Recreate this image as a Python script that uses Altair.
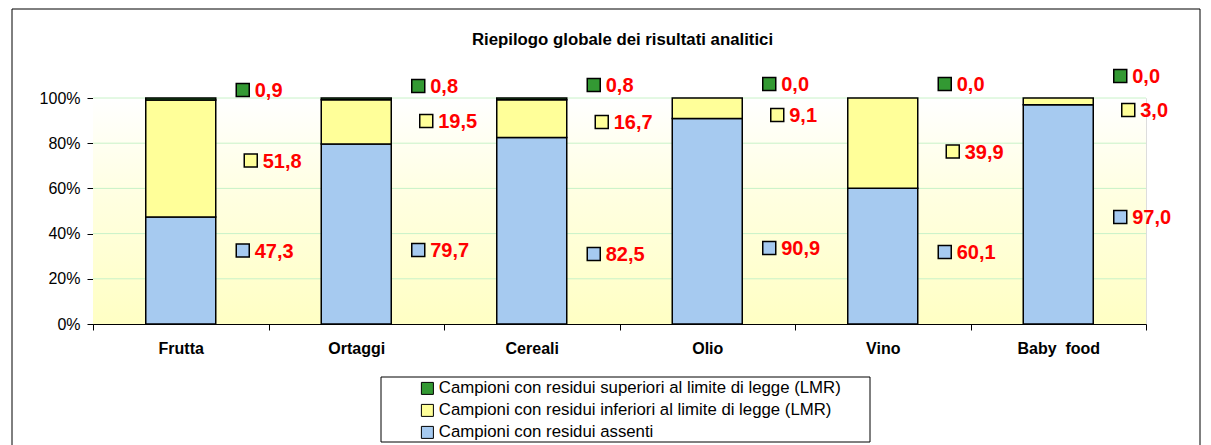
import altair as alt
import pandas as pd

# ---------------- data ----------------
categories = ["Frutta", "Ortaggi", "Cereali", "Olio", "Vino", "Baby\u00a0 food"]
series_names = [
    "Campioni con residui superiori al limite di legge (LMR)",
    "Campioni con residui inferiori al limite di legge (LMR)",
    "Campioni con residui assenti",
]
superiori = [0.9, 0.8, 0.8, 0.0, 0.0, 0.0]
inferiori = [51.8, 19.5, 16.7, 9.1, 39.9, 3.0]
assenti = [47.3, 79.7, 82.5, 90.9, 60.1, 97.0]

# where each data label sits (in % units of the y axis)
label_y_superiori = [103.5, 105.3, 105.8, 106.2, 106.2, 109.7]
label_y_inferiori = [72.3, 89.8, 89.4, 92.5, 76.3, 94.7]
label_y_assenti = [32.5, 32.7, 31.0, 33.6, 31.9, 47.3]

y_ticks = [0, 20, 40, 60, 80, 100]
grid_ticks = [20, 40, 60, 80, 100]
title_text = "Riepilogo globale dei risultati analitici"

# ---------------- table ----------------
rows = []
for rank, (name, vals, ly) in enumerate(
    [
        (series_names[2], assenti, label_y_assenti),
        (series_names[1], inferiori, label_y_inferiori),
        (series_names[0], superiori, label_y_superiori),
    ]
):
    for c, v, y in zip(categories, vals, ly):
        rows.append({"cat": c, "series": name, "value": v, "rank": rank, "label_y": y,
                     "label": f"{v:.1f}".replace(".", ",")})
df = pd.DataFrame(rows)

# ---------------- style ----------------
W, H = 1053, 226
FONT = "Liberation Sans"
colors = ["#339933", "#FFFF99", "#A6CAF0"]
sq_offset = {series_names[0]: 62, series_names[1]: 70, series_names[2]: 62}

color_scale = alt.Scale(domain=series_names, range=colors)
x_axis = alt.Axis(title=None, tickBand="extent", tickSize=6, tickColor="#000",
                  domainColor="#000", labelFontSize=16, labelFontWeight="bold",
                  labelFont=FONT, labelColor="#000", labelPadding=10,
                  labelAngle=0, grid=False)
y_axis = alt.Axis(title=None, values=y_ticks, labelExpr="datum.value + '%'",
                  grid=False, tickSize=6, tickColor="#000", domainColor="#000",
                  labelFontSize=16, labelFont=FONT, labelColor="#000",
                  labelPadding=7)
x_enc = alt.X("cat:N", sort=categories,
              scale=alt.Scale(paddingInner=0, paddingOuter=0), axis=x_axis)
y_scale = alt.Scale(domain=[0, 100], nice=False)

bg = alt.Chart(alt.Data(values=[{}])).mark_rect(
    color=alt.LinearGradient(
        gradient="linear", x1=0, x2=0, y1=0, y2=1,
        stops=[alt.GradientStop(color="#FFFFFF", offset=0),
               alt.GradientStop(color="#FFFFE0", offset=0.45),
               alt.GradientStop(color="#FFFFC4", offset=1)]),
).encode(x=alt.value(0), x2=alt.value(W), y=alt.value(0), y2=alt.value(H))

grid = alt.Chart(pd.DataFrame({"t": grid_ticks})).mark_rule(
    color="#C8F2C8", strokeWidth=1
).encode(y=alt.Y("t:Q", scale=y_scale, axis=y_axis), x=alt.value(0), x2=alt.value(W))

bars = alt.Chart(df).transform_filter("datum.value > 0").mark_bar(
    width=70, stroke="#000", strokeWidth=1.5
).encode(
    x=x_enc,
    y=alt.Y("value:Q", stack="zero", scale=y_scale, axis=y_axis),
    color=alt.Color("series:N", scale=color_scale,
                    legend=alt.Legend(title=None, orient="none", legendX=326, legendY=282,
                                      direction="vertical", symbolType="square",
                                      symbolSize=144, symbolStrokeColor="#000",
                                      symbolStrokeWidth=1, symbolOpacity=1,
                                      labelFontSize=16.8, labelFont=FONT, labelColor="#000",
                                      labelLimit=0, labelOffset=3, padding=0,
                                      rowPadding=4)),
    order=alt.Order("rank:Q"),
)

label_layers = []
for name in series_names:
    base = alt.Chart(df).transform_filter(alt.datum.series == name)
    sq = base.mark_square(size=169, filled=True, stroke="#000", strokeWidth=1.5,
                          opacity=1, xOffset=sq_offset[name]).encode(
        x=alt.X("cat:N", sort=categories, axis=x_axis),
        y=alt.Y("label_y:Q", scale=y_scale, axis=y_axis),
        color=alt.Color("series:N", scale=color_scale, legend=None),
    )
    tx = base.mark_text(align="left", baseline="middle", dx=sq_offset[name] + 12, dy=1,
                        color="#FF0000", fontWeight="bold", fontSize=20, font=FONT).encode(
        x=alt.X("cat:N", sort=categories, axis=x_axis),
        y=alt.Y("label_y:Q", scale=y_scale, axis=y_axis),
        text="label:N",
    )
    label_layers += [sq, tx]

title_mark = alt.Chart(alt.Data(values=[{}])).mark_text(
    align="center", baseline="middle", fontSize=16.8, fontWeight="bold", font=FONT,
    color="#000"
).encode(x=alt.value(W / 2 + 3), y=alt.value(-58), text=alt.value(title_text))

legend_box = alt.Chart(alt.Data(values=[{}])).mark_rect(
    fill=None, stroke="#000", strokeWidth=1
).encode(x=alt.value(288), x2=alt.value(777), y=alt.value(279), y2=alt.value(344))

frame = alt.Chart(alt.Data(values=[{}])).mark_rect(
    fill=None, stroke="#000", strokeWidth=1
).encode(x=alt.value(-81), x2=alt.value(1107), y=alt.value(-89), y2=alt.value(400))

chart = alt.layer(bg, grid, bars, *label_layers, title_mark, legend_box, frame).properties(
    width=W, height=H,
    autosize=alt.AutoSizeParams(type="none"),
    padding={"left": 85, "top": 90, "right": 57, "bottom": 140},
).configure_view(stroke=None).configure(background="white")

chart.save("out.html", embed_options={"renderer": "svg", "actions": False})
